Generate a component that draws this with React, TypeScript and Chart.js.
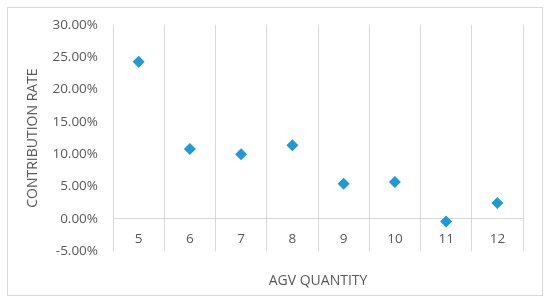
import React, { useEffect, useRef } from "react";
import { Chart, registerables } from "chart.js";

Chart.register(...registerables);

const categories = ["5", "6", "7", "8", "9", "10", "11", "12"];
const contributionRate = [24.3, 10.8, 10.0, 11.4, 5.45, 5.7, -0.4, 2.45];
const yMin = -5;
const yMax = 30;
const yStep = 5;
const xTitle = "AGV QUANTITY";
const yTitle = "CONTRIBUTION RATE";

const FONT = "'Open Sans', sans-serif";
const TEXT = "#595959";
const GRID = "#d9d9d9";

export default function App() {
  const ref = useRef<HTMLCanvasElement | null>(null);

  useEffect(() => {
    if (!ref.current) return;
    const chart = new Chart(ref.current, {
      type: "line",
      data: {
        labels: categories,
        datasets: [
          {
            label: yTitle,
            data: contributionRate,
            showLine: false,
            pointStyle: "rectRot",
            pointRadius: 6,
            pointHoverRadius: 6,
            pointBackgroundColor: "#1f9ad8",
            pointBorderColor: "#1f9ad8",
            pointBorderWidth: 0,
          },
        ],
      },
      options: {
        responsive: false,
        animation: false,
        layout: { padding: { left: 21, right: 27, top: 25, bottom: 5 } },
        plugins: {
          legend: { display: false },
          tooltip: { enabled: false },
          title: {
            display: true,
            text: xTitle,
            position: "bottom",
            fullSize: false,
            color: TEXT,
            font: { family: FONT, size: 14, weight: "normal" },
            padding: { top: 21, bottom: 10 },
          },
        },
        scales: {
          x: {
            type: "category",
            position: { y: 0 } as any,
            offset: true,
            grid: {
              offset: true,
              color: GRID,
              lineWidth: 1,
              drawTicks: false,
              tickLength: 0,
            },
            border: { display: true, color: GRID, width: 1 },
            ticks: {
              color: TEXT,
              font: { family: FONT, size: 13.5 },
              padding: 12,
              maxRotation: 0,
            },
          },
          y: {
            type: "linear",
            min: yMin,
            max: yMax,
            grid: { display: false, drawTicks: false },
            border: { display: false },
            afterFit: (scale: any) => {
              scale.width = 92;
            },
            ticks: {
              stepSize: yStep,
              color: TEXT,
              font: { family: FONT, size: 13.5 },
              padding: 15,
              callback: (v: any) => Number(v).toFixed(2) + "%",
            },
            title: {
              display: true,
              text: yTitle,
              color: TEXT,
              font: { family: FONT, size: 14 },
              padding: 4,
            },
          },
        },
      },
    });
    return () => chart.destroy();
  }, []);

  return (
    <div style={{ position: "absolute", left: 0, top: 0, width: 550, height: 304, background: "#fff" }}>
      <div
        style={{
          position: "absolute",
          left: 7,
          top: 7,
          width: 536,
          height: 289,
          boxSizing: "border-box",
          border: "1px solid #d9d9d9",
        }}
      />
      <canvas ref={ref} width={550} height={304} style={{ position: "absolute", left: 0, top: 0 }} />
    </div>
  );
}
